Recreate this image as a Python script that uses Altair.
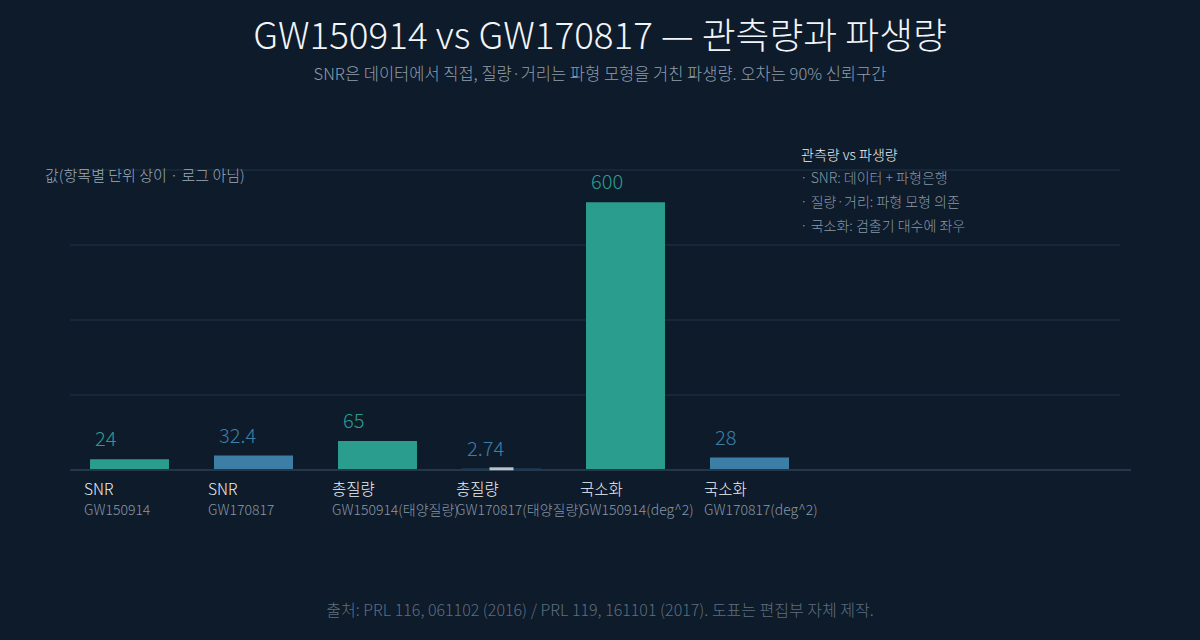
import altair as alt
import pandas as pd

metrics = ["SNR", "SNR", "총질량", "총질량", "국소화", "국소화"]
events = ["GW150914", "GW170817", "GW150914(태양질량)", "GW170817(태양질량)",
          "GW150914(deg^2)", "GW170817(deg^2)"]
groups = ["GW150914", "GW170817", "GW150914", "GW170817", "GW150914", "GW170817"]
values = [24, 32.4, 65, 2.74, 600, 28]
value_labels = ["24", "32.4", "65", "2.74", "600", "28"]

err_key = ["k3"]
err_lo = [2.73]
err_hi = [2.78]

grid_values = [168, 336, 504, 672]

legend_title = "관측량 vs 파생량"
legend_lines = ["· SNR: 데이터 + 파형은행", "· 질량·거리: 파형 모형 의존", "· 국소화: 검출기 대수에 좌우"]

keys = [f"k{i}" for i in range(len(values))]
df = pd.DataFrame({"key": keys, "metric": metrics, "event": events, "group": groups,
                   "value": values, "label": value_labels})
err_df = pd.DataFrame({"key": err_key, "lo": err_lo, "hi": err_hi})
grid_df = pd.DataFrame({"g": grid_values})

FONT = "Noto Sans CJK KR"
W = 300
BG = "#0e1b2b"
TEAL = "#2a9d8f"
BLUE = "#3d7ea6"

xscale = alt.Scale(domain=keys, range=[-2.5, 741.5], paddingInner=0.363, paddingOuter=0.1815)
xs = alt.X("key:N", scale=xscale, axis=None)
yscale = alt.Scale(domain=[0, 672], nice=False)
ys = alt.Y("value:Q", scale=yscale, axis=None)
color = alt.Color("group:N", scale=alt.Scale(domain=["GW150914", "GW170817"], range=[TEAL, BLUE]),
                  legend=None)

grid = alt.Chart(grid_df).mark_rule(color="#1f3548", strokeWidth=1).encode(
    x=alt.value(0), x2=alt.value(1050), y=alt.Y("g:Q", scale=yscale, axis=None))

base = alt.Chart(df)
bars = base.mark_bar().encode(x=xs, y=ys, color=color)
vals = base.mark_text(align="left", baseline="middle", dx=-34.5, dy=-19, fontSize=20,
                      font=FONT, fontWeight=W).encode(x=xs, y="value:Q", text="label:N", color=color)
cat = base.mark_text(align="left", baseline="middle", dx=-45.5, fontSize=15.5, font=FONT,
                     fontWeight=W, color="#eef2f6").encode(x=xs, y=alt.value(320), text="metric:N")
sub = base.mark_text(align="left", baseline="middle", dx=-45.5, fontSize=14, font=FONT,
                     fontWeight=W, color="#8797a6").encode(x=xs, y=alt.value(341), text="event:N")

err = alt.Chart(err_df).mark_tick(color="white", thickness=3, size=24).encode(
    x=alt.X("key:N", scale=xscale, axis=None),
    y=alt.Y("lo:Q", scale=yscale))

baseline = alt.Chart(df).mark_rule(color="#26394b", strokeWidth=1.5).encode(
    x=alt.value(0), x2=alt.value(1061), y=alt.datum(0))


def txt(s, x, y, size, col, align="left"):
    return alt.Chart(pd.DataFrame({"t": [s]})).mark_text(
        align=align, baseline="middle", fontSize=size, font=FONT, color=col, fontWeight=W
    ).encode(x=alt.value(x), y=alt.value(y), text="t:N")


annots = [
    txt("GW150914 vs GW170817 — 관측량과 파생량", 530, -132, 36.8, "#f2f5f8", "center"),
    txt("SNR은 데이터에서 직접, 질량·거리는 파형 모형을 거친 파생량. 오차는 90% 신뢰구간", 530, -95, 16.5,
        "#8f9dab", "center"),
    txt("값(항목별 단위 상이 · 로그 아님)", -25, 6, 15, "#9aabba"),
    txt(legend_title, 731, -14, 14, "#eef2f6"),
    txt(legend_lines[0], 730, 9, 14, "#8797a6"),
    txt(legend_lines[1], 730, 33, 14, "#8797a6"),
    txt(legend_lines[2], 730, 57, 14, "#8797a6"),
    txt("출처: PRL 116, 061102 (2016) / PRL 119, 161101 (2017). 도표는 편집부 자체 제작.", 530, 441, 16,
        "#5d6e7e", "center"),
]

chart = alt.layer(grid, bars, baseline, vals, err, cat, sub, *annots).properties(
    width=1050, height=300,
    autosize=alt.AutoSizeParams(type="none"),
    padding={"left": 70, "top": 170, "right": 80, "bottom": 170},
    background=BG,
).configure_view(stroke=None)

chart.save("out.html", embed_options={"renderer": "svg", "actions": False})
